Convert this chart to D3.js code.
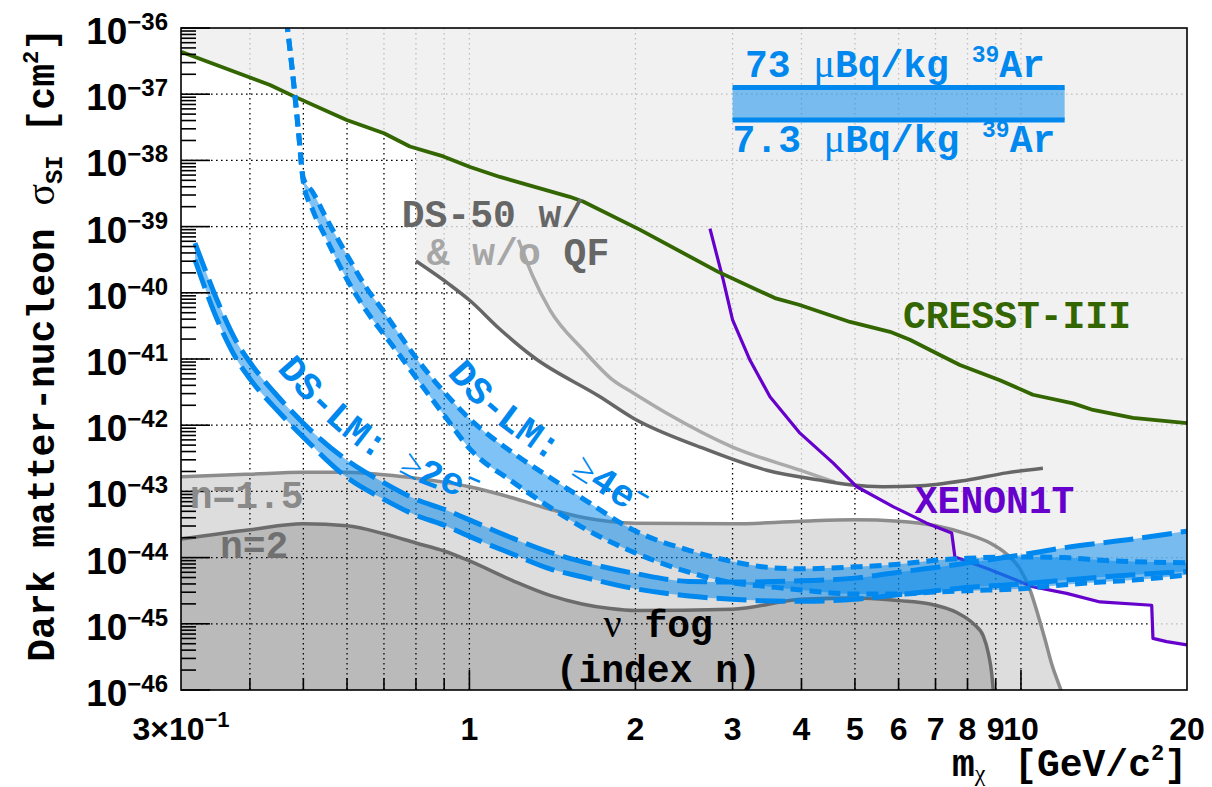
<!DOCTYPE html>
<html>
<head>
<meta charset="utf-8">
<script src="https://cdn.jsdelivr.net/npm/d3@7"></script>
<style>
  html, body { margin: 0; padding: 0; background: #fff; }
  svg { display: block; }
  text { white-space: pre; }
</style>
</head>
<body>
<svg id="chart" width="1212" height="787"></svg>
<script>
// ---------------------------------------------------------------------------
// Spin-independent DM-nucleon cross-section limits vs. WIMP mass.
// Masses in GeV/c^2, cross sections stored as log10(sigma / cm^2).
// ---------------------------------------------------------------------------

// CRESST-III limit
const cresstMass = [0.3, 0.435, 0.483, 0.599, 0.7, 0.78, 0.897, 1.003, 1.136, 1.52, 1.607, 2.04, 2.82, 3.58, 3.96, 4.9, 5.79, 6.29, 7.13, 7.75, 9.16, 10.51, 12.43, 13.51, 15.96, 20];
const cresstLogSigma = [-36.36, -36.86, -37.04, -37.39, -37.59, -37.79, -37.94, -38.10, -38.25, -38.55, -38.62, -39.05, -39.68, -40.08, -40.18, -40.44, -40.59, -40.71, -40.94, -41.09, -41.32, -41.54, -41.67, -41.77, -41.89, -41.97];

// DarkSide-50 with quenching fluctuations
const ds50QfMass = [0.8, 0.922, 1.003, 1.136, 1.306, 1.725, 1.979, 2.619, 3.459, 4.32, 4.9, 5.62, 6.47, 7.97, 9.42, 10.96];
const ds50QfLogSigma = [-39.52, -39.88, -40.12, -40.55, -40.97, -41.57, -41.89, -42.33, -42.68, -42.83, -42.90, -42.93, -42.92, -42.83, -42.72, -42.65];

// DarkSide-50 without quenching fluctuations
const ds50NoQfMass = [1.227, 1.3, 1.4, 1.607, 1.821, 1.979, 2.279, 3.0, 3.975, 4.6];
const ds50NoQfLogSigma = [-39.20, -39.73, -40.26, -40.86, -41.32, -41.51, -41.82, -42.33, -42.68, -42.86];

// XENON1T S2-only limit
const xenonMass = [2.73, 2.886, 3.0, 3.227, 3.507, 3.975, 4.563, 5.04, 5.862, 6.747, 7.49, 7.59, 8.66, 10.51, 12.1, 13.91, 17.26, 17.35, 18.37, 20];
const xenonLogSigma = [-39.03, -39.81, -40.41, -41.02, -41.57, -42.12, -42.57, -42.93, -43.23, -43.48, -43.63, -43.99, -44.16, -44.44, -44.54, -44.67, -44.72, -45.22, -45.27, -45.32];

// Neutrino fog boundaries (index n = 1.5 and n = 2)
const fog15Mass = [0.3, 0.4, 0.5, 0.6, 0.7, 0.8, 0.9, 1, 1.2, 1.4, 1.6, 2, 3, 4, 5, 6, 7.01, 8.02, 8.79, 9.43, 9.96, 10.39, 10.74, 11.06, 11.38, 11.78, 12.07];
const fog15LogSigma = [-42.78, -42.74, -42.71, -42.71, -42.75, -42.80, -42.86, -42.93, -43.10, -43.27, -43.39, -43.48, -43.49, -43.45, -43.43, -43.45, -43.52, -43.65, -43.78, -43.95, -44.17, -44.49, -44.87, -45.24, -45.62, -45.97, -46.23];
const fog2Mass = [0.3, 0.4, 0.5, 0.6, 0.7, 0.8, 0.9, 1, 1.2, 1.4, 1.6, 1.8, 2, 3, 4, 5, 6, 6.84, 7.65, 8.2, 8.55, 8.73, 8.85, 8.9, 8.95];
const fog2LogSigma = [-43.72, -43.58, -43.49, -43.52, -43.64, -43.78, -43.90, -44.05, -44.35, -44.57, -44.70, -44.77, -44.80, -44.78, -44.63, -44.61, -44.65, -44.70, -44.83, -45.00, -45.19, -45.45, -45.75, -45.97, -46.30];

// DS-LM projection, >= 4 electrons threshold (73 and 7.3 uBq/kg 39Ar)
const lm4eMass = [0.466, 0.48, 0.49, 0.5, 0.52, 0.55, 0.6, 0.65, 0.7, 0.75, 0.8, 0.9, 1, 1.2, 1.4, 1.6, 2, 2.5, 3, 3.5, 4, 5, 6, 7, 8, 10, 12, 14, 16, 20];
const lm4eHighBkg = [-35.88, -36.82, -37.57, -38.27, -38.48, -38.87, -39.43, -39.92, -40.29, -40.65, -40.98, -41.50, -41.90, -42.42, -42.79, -43.10, -43.60, -43.89, -44.06, -44.15, -44.17, -44.14, -44.10, -44.04, -44.01, -43.99, -44.00, -44.04, -44.06, -44.08];
const lm4eLowBkg = [-35.88, -36.82, -37.57, -38.33, -38.75, -39.18, -39.80, -40.27, -40.63, -40.96, -41.28, -41.85, -42.35, -42.86, -43.24, -43.54, -43.93, -44.22, -44.38, -44.44, -44.49, -44.55, -44.55, -44.52, -44.50, -44.47, -44.41, -44.37, -44.34, -44.26];

// DS-LM projection, >= 2 electrons threshold
const lm2eMass = [0.318, 0.33, 0.35, 0.38, 0.4, 0.45, 0.5, 0.6, 0.7, 0.8, 0.9, 1, 1.2, 1.4, 1.6, 2, 2.5, 3, 4, 5, 6, 7, 8, 10, 12, 16, 20];
const lm2eHighBkg = [-39.25, -39.60, -40.14, -40.77, -41.05, -41.57, -41.97, -42.53, -42.87, -43.12, -43.27, -43.43, -43.71, -43.92, -44.06, -44.24, -44.36, -44.37, -44.35, -44.31, -44.22, -44.15, -44.08, -43.96, -43.85, -43.72, -43.60];
const lm2eLowBkg = [-39.50, -39.88, -40.43, -41.03, -41.30, -41.79, -42.18, -42.79, -43.12, -43.36, -43.51, -43.68, -43.95, -44.17, -44.29, -44.47, -44.58, -44.63, -44.66, -44.63, -44.56, -44.50, -44.45, -44.40, -44.34, -44.26, -44.21];

// Axis ticks and labels
const xGridMasses = [0.4, 0.5, 0.6, 0.7, 0.8, 0.9, 1, 2, 3, 4, 5, 6, 7, 8, 9, 10];
const xMajorMasses = [1, 10];
const xLabelMasses = [1, 2, 3, 4, 5, 6, 7, 8, 9, 10, 20];
const yDecades = [-46, -45, -44, -43, -42, -41, -40, -39, -38, -37, -36];

// ---------------------------------------------------------------------------
const W = 1212, H = 787;
const plot = { left: 181, top: 28, right: 1187, bottom: 690 };
const mono = "'Liberation Mono', 'DejaVu Sans Mono', monospace";
const sans = "'Liberation Sans', Arial, sans-serif";
const serif = "'Liberation Serif', 'DejaVu Serif', serif";
const blue = "#0088ee";

const x = d3.scaleLog().domain([0.3, 20]).range([plot.left, plot.right]);
const y = d3.scaleLog().domain([1e-46, 1e-36]).range([plot.bottom, plot.top]);

const svg = d3.select("#chart");
const defs = svg.append("defs");
defs.append("clipPath").attr("id", "plotClip").append("rect")
  .attr("x", plot.left).attr("y", plot.top)
  .attr("width", plot.right - plot.left).attr("height", plot.bottom - plot.top);

const toPts = (ms, ls) => ms.map((m, i) => [m, Math.pow(10, ls[i])]);
const lineGen = curve => d3.line().x(d => x(d[0])).y(d => y(d[1])).curve(curve);

// log-log linear interpolation of a curve; null outside its mass range
function logInterp(ms, ls, m) {
  if (m < ms[0] || m > ms[ms.length - 1]) return null;
  const lm = Math.log10(m);
  for (let i = 1; i < ms.length; i++) {
    if (m <= ms[i]) {
      const a = Math.log10(ms[i - 1]), b = Math.log10(ms[i]);
      const t = b === a ? 1 : (lm - a) / (b - a);
      return ls[i - 1] + t * (ls[i] - ls[i - 1]);
    }
  }
  return ls[ls.length - 1];
}

const g = svg.append("g").attr("clip-path", "url(#plotClip)");
g.append("rect").attr("x", plot.left).attr("y", plot.top)
  .attr("width", plot.right - plot.left).attr("height", plot.bottom - plot.top)
  .attr("fill", "#fff");

// neutrino fog regions
const below = d3.area().x(d => x(d[0])).y0(plot.bottom + 30).y1(d => y(d[1])).curve(d3.curveMonotoneX);
g.append("path").attr("d", below(toPts(fog15Mass, fog15LogSigma))).attr("fill", "#dddddd");
g.append("path").attr("d", below(toPts(fog2Mass, fog2LogSigma))).attr("fill", "#bababa");

// dotted grid
const grid = g.append("g").attr("stroke", "#000").attr("stroke-width", 1.3).attr("stroke-dasharray", "1.6,3.4");
xGridMasses.forEach(m => {
  grid.append("line").attr("x1", x(m)).attr("x2", x(m)).attr("y1", plot.top).attr("y2", plot.bottom);
});
yDecades.slice(1, -1).forEach(k => {
  grid.append("line").attr("x1", plot.left).attr("x2", plot.right).attr("y1", y(Math.pow(10, k))).attr("y2", y(Math.pow(10, k)));
});

// excluded region: above the lowest of the existing limits
const expCurves = [[cresstMass, cresstLogSigma], [ds50QfMass, ds50QfLogSigma], [xenonMass, xenonLogSigma]];
let envMass = [];
expCurves.forEach(([ms]) => envMass.push(...ms));
envMass.push(ds50QfMass[0] * 0.9999);
for (let i = 0; i <= 800; i++) envMass.push(0.3 * Math.pow(20 / 0.3, i / 800));
envMass = Array.from(new Set(envMass)).filter(m => m >= 0.3 && m <= 20).sort((a, b) => a - b);
const envelope = envMass.map(m => {
  let best = Infinity;
  expCurves.forEach(([ms, ls]) => { const v = logInterp(ms, ls, m); if (v !== null && v < best) best = v; });
  return [m, Math.pow(10, best)];
});
g.append("path")
  .attr("d", d3.area().x(d => x(d[0])).y0(plot.top - 5).y1(d => y(d[1]))(envelope))
  .attr("fill", "rgb(238,238,238)").attr("fill-opacity", 0.8);

// neutrino fog boundary lines
g.append("path").attr("d", lineGen(d3.curveMonotoneX)(toPts(fog15Mass, fog15LogSigma)))
  .attr("fill", "none").attr("stroke", "#8c8c8c").attr("stroke-width", 3.5);
g.append("path").attr("d", lineGen(d3.curveMonotoneX)(toPts(fog2Mass, fog2LogSigma)))
  .attr("fill", "none").attr("stroke", "#6c6c6c").attr("stroke-width", 3.5);

// existing limits
g.append("path").attr("d", lineGen(d3.curveMonotoneX)(toPts(ds50NoQfMass, ds50NoQfLogSigma)))
  .attr("fill", "none").attr("stroke", "#aaaaaa").attr("stroke-width", 3.5);
g.append("path").attr("d", lineGen(d3.curveMonotoneX)(toPts(ds50QfMass, ds50QfLogSigma)))
  .attr("fill", "none").attr("stroke", "#666666").attr("stroke-width", 3.5);
g.append("path").attr("d", lineGen(d3.curveLinear)(toPts(xenonMass, xenonLogSigma)))
  .attr("fill", "none").attr("stroke", "#6600cc").attr("stroke-width", 3.2).attr("stroke-linejoin", "round");
g.append("path").attr("d", lineGen(d3.curveLinear)(toPts(cresstMass, cresstLogSigma)))
  .attr("fill", "none").attr("stroke", "#336600").attr("stroke-width", 3.8).attr("stroke-linejoin", "round");

// DS-LM bands
function band(ms, hi, lo, dash) {
  const rows = ms.map((m, i) => [m, Math.pow(10, hi[i]), Math.pow(10, lo[i])]);
  g.append("path")
    .attr("d", d3.area().x(d => x(d[0])).y0(d => y(d[2])).y1(d => y(d[1])).curve(d3.curveMonotoneX)(rows))
    .attr("fill", blue).attr("fill-opacity", 0.5);
  [hi, lo].forEach(ls => {
    g.append("path").attr("d", lineGen(d3.curveMonotoneX)(toPts(ms, ls)))
      .attr("fill", "none").attr("stroke", blue).attr("stroke-width", 5).attr("stroke-dasharray", dash);
  });
}
band(lm4eMass, lm4eHighBkg, lm4eLowBkg, "12,7");
band(lm2eMass, lm2eHighBkg, lm2eLowBkg, "30,9");

// frame
svg.append("rect").attr("x", plot.left).attr("y", plot.top)
  .attr("width", plot.right - plot.left).attr("height", plot.bottom - plot.top)
  .attr("fill", "none").attr("stroke", "#000").attr("stroke-width", 1.6);

// y ticks
const ticks = svg.append("g").attr("stroke", "#000").attr("stroke-width", 1.6);
yDecades.forEach(k => {
  const yy = y(Math.pow(10, k));
  ticks.append("line").attr("x1", plot.left).attr("x2", plot.left + 29).attr("y1", yy).attr("y2", yy);
  if (k < -36) {
    for (let j = 2; j <= 9; j++) {
      const ym = y(j * Math.pow(10, k));
      ticks.append("line").attr("x1", plot.left).attr("x2", plot.left + 15).attr("y1", ym).attr("y2", ym);
    }
  }
});
// x ticks
xGridMasses.forEach(m => {
  const len = xMajorMasses.includes(m) ? 20 : 12;
  ticks.append("line").attr("x1", x(m)).attr("x2", x(m)).attr("y1", plot.bottom).attr("y2", plot.bottom - len);
});

// y tick labels
yDecades.forEach(k => {
  const t = svg.append("text").attr("x", plot.left - 13).attr("y", y(Math.pow(10, k)) + 16)
    .attr("text-anchor", "end").attr("font-family", sans).attr("font-weight", "bold").attr("font-size", 37);
  t.append("tspan").text("10");
  t.append("tspan").attr("font-size", 24).attr("dy", -14).text("\u2212" + Math.abs(k));
});

// x tick labels
xLabelMasses.forEach(m => {
  svg.append("text").attr("x", x(m)).attr("y", 740).attr("text-anchor", "middle")
    .attr("font-family", sans).attr("font-weight", "bold").attr("font-size", 32).text(String(m));
});
{
  const t = svg.append("text").attr("x", x(0.3)).attr("y", 740).attr("text-anchor", "middle")
    .attr("font-family", sans).attr("font-weight", "bold").attr("font-size", 32);
  t.append("tspan").text("3\u00d710");
  t.append("tspan").attr("font-size", 22).attr("dy", -13).text("\u22121");
}

// axis titles
{
  const t = svg.append("text").attr("transform", `translate(54,${plot.top}) rotate(-90)`)
    .attr("text-anchor", "end").attr("font-family", mono).attr("font-weight", "bold").attr("font-size", 38);
  t.append("tspan").text("Dark matter-nucleon ");
  t.append("tspan").attr("font-family", serif).attr("font-weight", "normal").attr("font-size", 40).text("\u03c3");
  t.append("tspan").attr("font-size", 24).attr("dy", 8).text("SI");
  t.append("tspan").attr("dy", -8).text(" [cm");
  t.append("tspan").attr("font-size", 22).attr("dy", -16).text("2");
  t.append("tspan").attr("dy", 16).text("]");
}
{
  const t = svg.append("text").attr("x", plot.right).attr("y", 776)
    .attr("text-anchor", "end").attr("font-family", mono).attr("font-weight", "bold").attr("font-size", 38);
  t.append("tspan").text("m");
  t.append("tspan").attr("font-family", serif).attr("font-weight", "normal").attr("font-size", 24).attr("dy", 5).text("\u03c7");
  t.append("tspan").attr("dy", -5).attr("dx", 6).text(" [GeV/c");
  t.append("tspan").attr("font-size", 22).attr("dy", -16).text("2");
  t.append("tspan").attr("dy", 16).text("]");
}

// annotation helper, placed in data coordinates
function label(m, logS, txt, color, anchor) {
  return svg.append("text").attr("x", x(m)).attr("y", y(Math.pow(10, logS)))
    .attr("text-anchor", anchor || "start").attr("font-family", mono).attr("font-weight", "bold")
    .attr("font-size", 38).attr("fill", color).text(txt);
}
label(6.11, -40.53, "CRESST-III", "#336600");
label(6.42, -43.33, "XENON1T", "#6600cc");
label(0.754, -39.01, "DS-50 w/", "#666666");
{
  const t = label(0.837, -39.58, "", "#a6a6a6");
  t.append("tspan").text("& w/o");
  t.append("tspan").attr("fill", "#666666").text(" QF");
}
label(0.311, -43.25, "n=1.5", "#8a8a8a");
label(0.353, -44.01, "n=2", "#707070");
{
  const t = label(2.2, -45.20, "", "#000", "middle");
  t.append("tspan").attr("font-family", serif).attr("font-weight", "normal").attr("font-size", 40).text("\u03bd");
  t.append("tspan").text(" fog");
  label(2.2, -45.88, "(index n)", "#000", "middle");
}

// legend for the background range
{
  const y1 = y(Math.pow(10, -36.90)), y2 = y(Math.pow(10, -37.39));
  const x1 = x(3.0), x2 = x(12);
  svg.append("rect").attr("x", x1).attr("y", y1).attr("width", x2 - x1).attr("height", y2 - y1)
    .attr("fill", blue).attr("fill-opacity", 0.5);
  [y1, y2].forEach(yy => svg.append("line").attr("x1", x1).attr("x2", x2).attr("y1", yy).attr("y2", yy)
    .attr("stroke", blue).attr("stroke-width", 5));
  const leg = (m, logS, num) => {
    const t = label(m, logS, "", blue);
    t.append("tspan").text(num + " ");
    t.append("tspan").attr("font-family", serif).attr("font-weight", "normal").attr("font-size", 40).text("\u03bc");
    t.append("tspan").text("Bq/kg ");
    t.append("tspan").attr("font-size", 23).attr("dy", -15).text("39");
    t.append("tspan").attr("dy", 15).text("Ar");
  };
  leg(3.16, -36.74, "73");
  leg(3.0, -37.87, "7.3");
}

// curved DS-LM labels that follow the upper edge of each band
function pathLabel(id, ms, ls, offset, startX, numeral) {
  const tmp = g.append("path").attr("d", lineGen(d3.curveMonotoneX)(toPts(ms, ls))).attr("fill", "none");
  const node = tmp.node();
  const L = node.getTotalLength();
  const raw = [];
  for (let s = 0; s <= L; s += 2) { const p = node.getPointAtLength(s); raw.push([p.x, p.y]); }
  tmp.remove();
  const off = raw.map((p, i) => {
    const a = raw[Math.max(0, i - 5)], b = raw[Math.min(raw.length - 1, i + 5)];
    const tx = b[0] - a[0], ty = b[1] - a[1], n = Math.hypot(tx, ty) || 1;
    return [p[0] + offset * ty / n, p[1] - offset * tx / n];
  }).filter(p => p[0] >= startX && p[0] <= plot.right);
  defs.append("path").attr("id", id).attr("d", d3.line().curve(d3.curveBasis)(off));
  const tp = svg.append("text").attr("font-family", mono).attr("font-weight", "bold").attr("font-size", 38)
    .attr("fill", blue).append("textPath").attr("href", "#" + id);
  tp.append("tspan").text("DS-LM: ");
  tp.append("tspan").attr("font-family", serif).attr("font-weight", "normal").text("\u2265");
  tp.append("tspan").text(numeral + "e");
  tp.append("tspan").attr("font-size", 24).attr("dy", -14).text("\u2212");
}
pathLabel("lbl2e", lm2eMass, lm2eHighBkg, 17, 276, "2");
pathLabel("lbl4e", lm4eMass, lm4eHighBkg, 14, 446, "4");
</script>
</body>
</html>
